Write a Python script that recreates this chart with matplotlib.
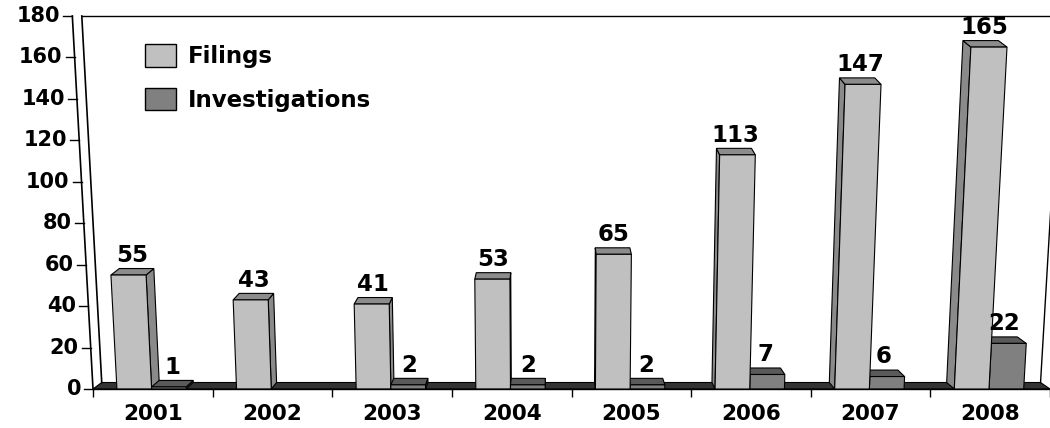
import matplotlib.pyplot as plt
from matplotlib.patches import Polygon, Patch

# data
years = ['2001', '2002', '2003', '2004', '2005', '2006', '2007', '2008']
filings = [55, 43, 41, 53, 65, 113, 147, 165]
investigations = [1, None, 2, 2, 2, 7, 6, 22]
yticks = [0, 20, 40, 60, 80, 100, 120, 140, 160, 180]

plt.rcParams['font.family'] = ['DejaVu Sans']
plt.rcParams['font.weight'] = 'bold'

fig = plt.figure(figsize=(10.5, 4.28), dpi=100)
ax = fig.add_axes([93 / 1050, 39 / 428, 957 / 1050, 373 / 428])
ax.set_xlim(0, 8)
ax.set_ylim(0, 180)

# fake 3d perspective (excel style)
PX = 957 / 8          # pixels per category
PY = 373 / 180        # pixels per unit
XC = 3.84             # vanishing x in data units
LEAN = 0.00025
DEPTH_K = 0.019
DEPTH_Y = 6.5 / PY


def proj(x, y):
    return XC + (x - XC) * (1 + LEAN * y), y


def back(p):
    x, y = p
    return x - DEPTH_K * (x - XC), y + DEPTH_Y


def poly(pts, fc, z):
    ax.add_patch(Polygon(pts, closed=True, facecolor=fc, edgecolor='black',
                         lw=0.8, zorder=z, clip_on=False))


# floor
f0, f1 = proj(0, 0), proj(8, 0)
poly([f0, f1, back(f1), back(f0)], '#333333', 1)

# walls
w_top = back(proj(0, 180 - DEPTH_Y))
ax.plot(*zip(proj(0, 0), proj(0, 180)), color='black', lw=1.2, clip_on=False, zorder=1)
ax.plot(*zip(back(f0), w_top), color='black', lw=1.2, clip_on=False, zorder=1)
ax.plot([w_top[0], 8.3], [180, 180], color='black', lw=1, clip_on=False, zorder=1)
ax.plot(*zip(back(f1), back(proj(8, 180 - DEPTH_Y))), color='black', lw=1,
        clip_on=False, zorder=1)


def bar3d(x0, x1, v, front, top, side, z):
    bl, br, tr, tl = proj(x0, 0), proj(x1, 0), proj(x1, v), proj(x0, v)
    if (x0 + x1) / 2 < XC:
        poly([br, tr, back(tr), back(br)], side, z)
    else:
        poly([bl, tl, back(tl), back(bl)], side, z)
    poly([tl, tr, back(tr), back(tl)], top, z)
    poly([bl, br, tr, tl], front, z)
    cx = (tl[0] + tr[0]) / 2
    cx = (cx + back((cx, v))[0]) / 2
    ax.annotate(str(v), (cx, v), xytext=(0, 6), textcoords='offset points',
                ha='center', va='bottom', fontsize=16.5, fontweight='bold',
                zorder=10, annotation_clip=False)


for i in range(len(years)):
    right_side = i + 0.5 > XC
    zf, zi = (3, 2) if right_side else (2, 3)
    bar3d(i + 0.2, i + 0.49, filings[i], '#c0c0c0', '#8c8c8c', '#8a8a8a', zf)
    if investigations[i]:
        bar3d(i + 0.49, i + 0.78, investigations[i], '#808080', '#5a5a5a', '#4a4a4a', zi)

# y axis labels along the slanted wall
for t in yticks:
    x, y = proj(0, t)
    ax.plot([x - 9 / PX, x], [y, y], color='black', lw=1, clip_on=False)
    ax.text(x - 12 / PX, y, str(t), ha='right', va='center', fontsize=15,
            fontweight='bold')

# category axis
for s in ['top', 'left', 'right']:
    ax.spines[s].set_visible(False)
ax.spines['bottom'].set_linewidth(1)
ax.set_yticks([])
ax.set_xticks([i + 0.5 for i in range(len(years))])
ax.set_xticklabels(years, fontsize=15.5, fontweight='bold')
ax.set_xticks(range(len(years) + 1), minor=True)
ax.tick_params(axis='x', which='major', length=0, pad=11)
ax.tick_params(axis='x', which='minor', length=6, width=1, direction='out')

fig.legend(handles=[Patch(facecolor='#c0c0c0', edgecolor='black', label='Filings'),
                    Patch(facecolor='#808080', edgecolor='black', label='Investigations')],
           loc='upper left', bbox_to_anchor=(145 / 1050, 1 - 44 / 428), frameon=False,
           borderpad=0, borderaxespad=0, prop={'size': 16.5, 'weight': 'bold'},
           handlelength=1.35, handleheight=1.15, labelspacing=0.85, handletextpad=0.5)

fig.savefig('out.png', dpi=100)
